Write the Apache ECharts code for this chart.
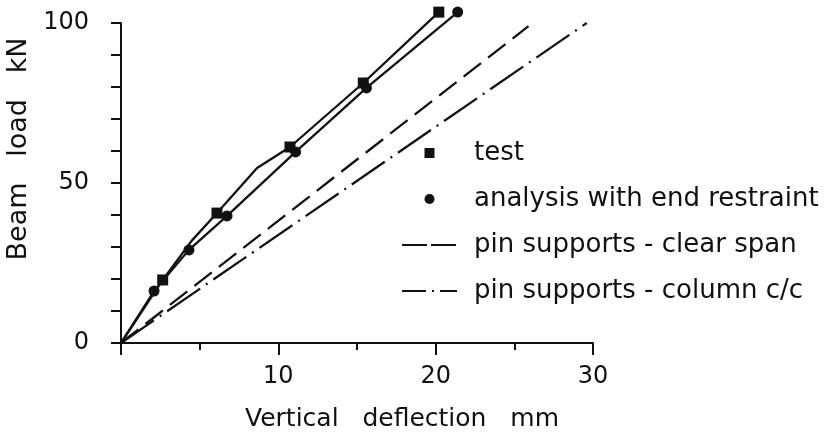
<!DOCTYPE html>
<html>
<head>
<meta charset="utf-8">
<script src="https://cdn.jsdelivr.net/npm/echarts@6/dist/echarts.min.js"></script>
<style>
  html, body { margin: 0; padding: 0; background: #fff; }
  #chart { width: 830px; height: 434px; }
</style>
</head>
<body>
<div id="chart"></div>
<script>
// test curve (vertices, some without markers) and measured points
const testLine = [[0, 0], [2.65, 19.7], [4.5, 32], [6.1, 40.6], [8.65, 54.7], [10.74, 61.25], [15.4, 81.25], [20.2, 103.4]]
const testPoints = [[2.65, 19.7], [6.1, 40.6], [10.74, 61.25], [15.4, 81.25], [20.2, 103.4]]
// analysis with end restraint
const analysisLine = [[0, 0], [2.1, 16.25], [4.32, 29.1], [6.74, 39.7], [11.1, 59.7], [15.6, 79.7], [21.4, 103.4]]
const analysisPoints = analysisLine.slice(1)
// pin supports
const clearSpan = [[0, 0], [25.9, 99]]
const columnCC = [[0, 0], [29.6, 100]]

const ink = '#111'
const font = 'DejaVu Sans'

const chart = echarts.init(document.getElementById('chart'))
chart.setOption({
  backgroundColor: '#fff',
  animation: false,
  grid: { left: 121, top: 23, right: 237, bottom: 91, outerBoundsMode: 'none' },
  legend: {
    orient: 'vertical',
    left: 396,
    top: 135,
    itemWidth: 55,
    itemHeight: 10,
    itemGap: 20,
    symbolKeepAspect: true,
    inactiveColor: ink,
    data: [
      { name: 'test', icon: 'path://M0,0L10,0L10,10L0,10Z' },
      { name: 'analysis with end restraint', icon: 'circle' },
      { name: 'pin supports - clear span', itemStyle: { opacity: 0 }, lineStyle: { type: [25, 4] } },
      { name: 'pin supports - column c/c', itemStyle: { opacity: 0 }, lineStyle: { type: [24, 6, 2, 6] } }
    ],
    textStyle: {
      color: ink,
      fontFamily: font,
      fontSize: 26,
      lineHeight: 24,
      padding: [0, 0, 0, 12]
    }
  },
  xAxis: {
    type: 'value',
    min: 0,
    max: 30,
    interval: 10,
    name: 'Vertical   deflection   mm',
    nameLocation: 'middle',
    nameGap: 64,
    nameTextStyle: { color: ink, fontFamily: font, fontSize: 25, padding: [0, 0, 0, 90] },
    axisLine: { lineStyle: { color: ink, width: 2 } },
    axisTick: { length: 12, lineStyle: { color: ink, width: 2 } },
    minorTick: { show: true, splitNumber: 2, length: 7, lineStyle: { color: ink, width: 2 } },
    splitLine: { show: false },
    axisLabel: {
      color: ink,
      fontFamily: font,
      fontSize: 24,
      margin: 22,
      formatter: v => (v === 0 ? '' : v)
    }
  },
  yAxis: {
    type: 'value',
    min: 0,
    max: 100,
    interval: 10,
    name: 'Beam   load   kN',
    nameLocation: 'middle',
    nameGap: 72,
    nameTextStyle: { color: ink, fontFamily: font, fontSize: 27, padding: [0, 0, 0, 68] },
    axisLine: { lineStyle: { color: ink, width: 2 } },
    axisTick: { length: 10, lineStyle: { color: ink, width: 2 } },
    splitLine: { show: false },
    axisLabel: {
      color: ink,
      fontFamily: font,
      fontSize: 24,
      margin: 32,
      formatter: v => (v % 50 === 0 ? v : '')
    }
  },
  series: [
    {
      name: 'test curve',
      type: 'line',
      data: testLine,
      symbol: 'none',
      clip: false,
      lineStyle: { color: ink, width: 2.3 }
    },
    {
      name: 'test',
      type: 'scatter',
      data: testPoints,
      symbol: 'rect',
      symbolSize: 11,
      clip: false,
      itemStyle: { color: ink, opacity: 1 }
    },
    {
      name: 'analysis curve',
      type: 'line',
      data: analysisLine,
      symbol: 'none',
      clip: false,
      lineStyle: { color: ink, width: 2.3 }
    },
    {
      name: 'analysis with end restraint',
      type: 'scatter',
      data: analysisPoints,
      symbol: 'circle',
      symbolSize: 11,
      clip: false,
      itemStyle: { color: ink, opacity: 1 }
    },
    {
      name: 'pin supports - clear span',
      type: 'line',
      data: clearSpan,
      symbol: 'none',
      itemStyle: { color: ink },
      lineStyle: { color: ink, width: 2.3, type: [22, 9] }
    },
    {
      name: 'pin supports - column c/c',
      type: 'line',
      data: columnCC,
      symbol: 'none',
      itemStyle: { color: ink },
      lineStyle: { color: ink, width: 2.3, type: [40, 7, 2, 7] }
    }
  ]
})
</script>
</body>
</html>
